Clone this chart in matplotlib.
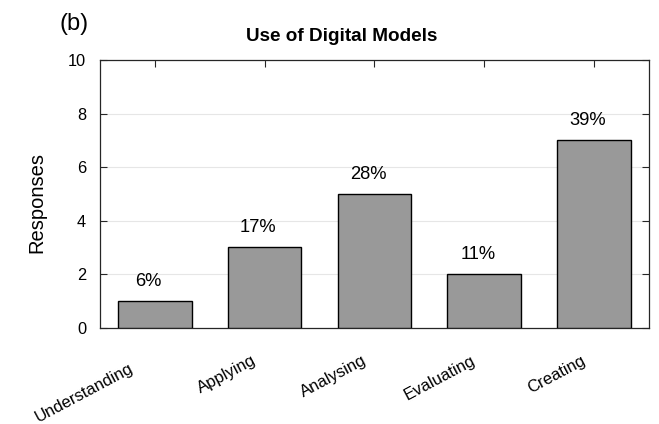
import matplotlib
matplotlib.use("Agg")
import matplotlib.pyplot as plt
import matplotlib.transforms as mtransforms
import numpy as np

plt.rcParams['font.family'] = ['Liberation Sans', 'DejaVu Sans']

# data
categories = ["Understanding", "Applying", "Analysing", "Evaluating", "Creating"]
responses = [1, 3, 5, 2, 7]
percent_labels = ["6%", "17%", "28%", "11%", "39%"]
y_ticks = [0, 2, 4, 6, 8, 10]

fig = plt.figure(figsize=(6.59, 4.24), dpi=100)
ax = fig.add_axes([0.1517, 0.2271, 0.8331, 0.6314])

x = np.arange(1, len(categories) + 1)
ax.bar(x, responses, width=0.67, color="#999999", edgecolor="black",
       linewidth=1.0, zorder=3)

# percentage labels above each bar
for xi, v, lab in zip(x, responses, percent_labels):
    ax.text(xi - 0.06, v + 0.42, lab, ha="center", va="bottom",
            fontsize=13.2, color="black")

ax.set_xlim(0.5, 5.5)
ax.set_ylim(0, 10)
ax.set_yticks(y_ticks)
ax.set_xticks(x)
ax.set_xticklabels(categories, rotation=28, ha="right", va="top",
                   rotation_mode="anchor", fontsize=12)
ax.tick_params(axis="both", direction="in", length=5, width=0.8,
               colors="#262626", top=True, right=True)
ax.tick_params(axis="y", labelsize=11.8, pad=10)
ax.tick_params(axis="x", pad=18, labelcolor="black")
ax.tick_params(axis="y", labelcolor="black")

# shift rotated labels to sit where the reference has them
for i, lbl in enumerate(ax.get_xticklabels()):
    dx, dy = -0.13, 0.0
    if i == 0:
        dx, dy = -0.26, -0.08
    offset = mtransforms.ScaledTranslation(dx, dy, fig.dpi_scale_trans)
    lbl.set_transform(lbl.get_transform() + offset)

for s in ax.spines.values():
    s.set_color("#262626")
    s.set_linewidth(0.9)

ax.yaxis.grid(True, color="#e6e6e6", linewidth=0.8, zorder=0)
ax.set_axisbelow(True)

ax.set_ylabel("Responses", fontsize=14.5)
ax.yaxis.set_label_coords(-0.098, 0.466)
ax.set_title("Use of Digital Models", fontsize=13.6, fontweight="bold",
             x=0.44, pad=14)
fig.text(0.091, 0.918, "(b)", fontsize=17, ha="left", va="bottom")

fig.savefig("out.png", dpi=100)
